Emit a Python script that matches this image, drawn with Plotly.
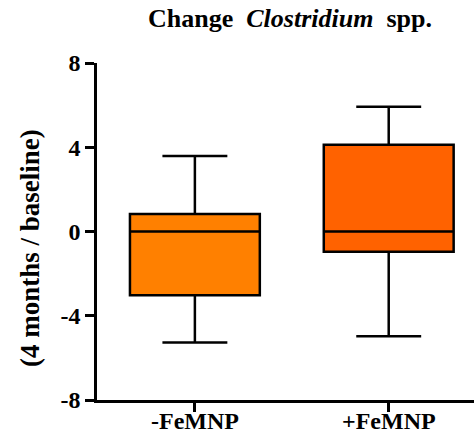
import plotly.graph_objects as go

# Group labels and box summary statistics (change, 4 months / baseline)
groups = ["-FeMNP", "+FeMNP"]
lower_whisker = [-5.27, -4.97]
q1_values = [-3.03, -0.96]
medians = [0.0, 0.0]
q3_values = [0.83, 4.12]
upper_whisker = [3.59, 5.92]
box_colors = ["#FF8000", "#FF6200"]

y_ticks = [-8, -4, 0, 4, 8]

serif = "Liberation Serif"
W, H = 474, 437
PLOT_TOP, PLOT_BOTTOM = 63, 400

fig = go.Figure()
for i, g in enumerate(groups):
    fig.add_trace(go.Box(
        x=[g],
        q1=[q1_values[i]],
        median=[medians[i]],
        q3=[q3_values[i]],
        lowerfence=[lower_whisker[i]],
        upperfence=[upper_whisker[i]],
        fillcolor=box_colors[i],
        line=dict(color="black", width=2.5),
        width=0.67,
        whiskerwidth=0.5,
        boxpoints=False,
        showlegend=False,
        hoverinfo="skip",
    ))

# Category labels under the ticks, kept tight to the axis
for g in groups:
    fig.add_annotation(
        text=f"<b>{g}</b>",
        xref="x", yref="paper",
        x=g, y=-(407 - PLOT_BOTTOM) / (PLOT_BOTTOM - PLOT_TOP),
        xanchor="center", yanchor="top",
        showarrow=False,
        borderpad=0,
        font=dict(family=serif, size=24, color="black"),
    )

# Vertical axis caption
fig.add_annotation(
    text="<b>(4 months / baseline)</b>",
    xref="paper", yref="paper",
    x=-(97 - 30) / (W - 97),
    y=(PLOT_BOTTOM - 248) / (PLOT_BOTTOM - PLOT_TOP),
    xanchor="center", yanchor="middle",
    textangle=-90,
    showarrow=False,
    font=dict(family=serif, size=27, color="black"),
)

fig.update_layout(
    width=W,
    height=H,
    margin=dict(l=97, r=0, t=PLOT_TOP, b=H - PLOT_BOTTOM, autoexpand=False),
    plot_bgcolor="white",
    paper_bgcolor="white",
    title=dict(
        text="<b>Change&nbsp;&nbsp;<i>Clostridium</i>&nbsp;&nbsp;spp.</b>",
        x=290 / W,
        xanchor="center",
        y=1 - 27 / H,
        yanchor="bottom",
        font=dict(family=serif, size=26, color="black"),
    ),
    xaxis=dict(
        type="category",
        categoryorder="array",
        categoryarray=groups,
        range=[-0.505, 1.44],
        automargin=False,
        showline=True,
        linecolor="black",
        linewidth=2.5,
        ticks="outside",
        ticklen=9,
        tickwidth=2.5,
        tickcolor="black",
        showticklabels=False,
        showgrid=False,
        zeroline=False,
    ),
    yaxis=dict(
        range=[-8, 8],
        automargin=False,
        tickvals=y_ticks,
        ticktext=[f"<b>{v}</b>" for v in y_ticks],
        showline=True,
        linecolor="black",
        linewidth=2.5,
        ticks="outside",
        ticklen=9,
        tickwidth=2.5,
        tickcolor="black",
        showgrid=False,
        zeroline=False,
        tickfont=dict(family=serif, size=24, color="black"),
    ),
)

fig.write_html("out.html")
